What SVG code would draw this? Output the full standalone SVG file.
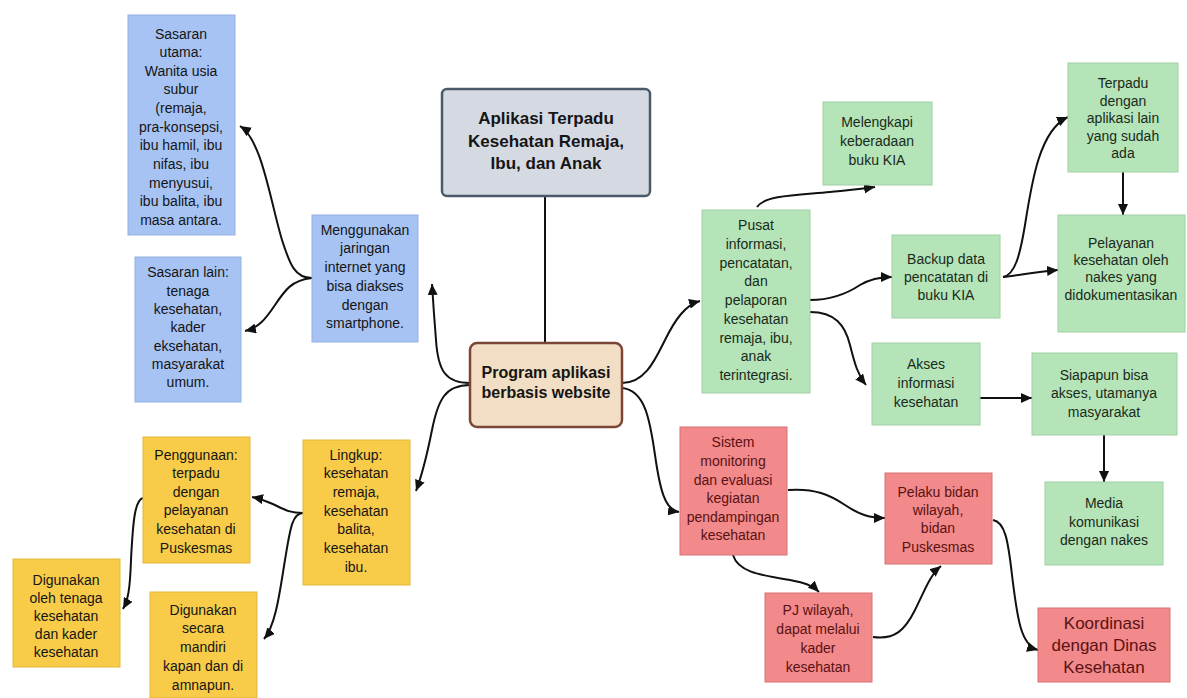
<svg xmlns="http://www.w3.org/2000/svg" width="1187" height="698" viewBox="0 0 1187 698">
<defs>
<marker id="arr" markerUnits="userSpaceOnUse" markerWidth="12" markerHeight="10" refX="11" refY="5" orient="auto">
<path d="M0,0 L11,5 L0,10 z" fill="#111"/>
</marker>
<style>
.t{font-family:"Liberation Sans",Arial,sans-serif;font-size:14px;text-anchor:middle;fill:#151515}
.tr{fill:#5a1212}
.tg{fill:#1a2a1a}
.bl{fill:#a6c3f4;stroke:#93b0e0;stroke-width:1}
.ye{fill:#f8cc48;stroke:#e2b53a;stroke-width:1}
.gr{fill:#b5e4b8;stroke:#a0d0a4;stroke-width:1}
.rd{fill:#f2898b;stroke:#d87274;stroke-width:1}
.c{fill:none;stroke:#111;stroke-width:2}
.ca{fill:none;stroke:#111;stroke-width:2;marker-end:url(#arr)}
</style>
</defs>
<rect width="1187" height="698" fill="#ffffff"/>

<g id="connectors">
<path class="c" d="M545,197 L545,343"/>
<path class="ca" d="M470,383 C445,383 438,370 436,340 C434,315 433,300 432,284"/>
<path class="ca" d="M470,385 C445,385 438,400 432,430 C426,460 422,475 416,491"/>
<path class="ca" d="M312,278 C295,278 290,265 282,240 C270,200 262,140 240,126"/>
<path class="ca" d="M312,278 C292,280 285,290 275,305 C265,320 258,328 245,331"/>
<path class="ca" d="M303,513 C290,513 285,510 275,505 C268,502 262,499 252,497"/>
<path class="ca" d="M303,513 C292,513 290,530 285,560 C280,590 276,625 264,639"/>
<path class="ca" d="M143,498 C135,500 133,520 131,560 C130,590 128,600 123,609"/>
<path class="ca" d="M622,383 C645,383 655,360 665,340 C675,320 685,305 700,301"/>
<path class="ca" d="M622,388 C645,390 650,420 655,455 C660,490 665,510 679,512"/>
<path class="ca" d="M757,207 C765,195 800,195 830,192 C850,190 862,189 875,187"/>
<path class="ca" d="M810,300 C830,300 845,295 860,285 C870,279 880,277 892,277"/>
<path class="ca" d="M810,312 C835,312 845,325 850,345 C855,365 858,375 866,385"/>
<path class="ca" d="M1003,277 C1015,275 1020,255 1025,225 C1032,180 1040,130 1068,117"/>
<path class="ca" d="M1003,277 C1020,275 1035,272 1058,270"/>
<path class="ca" d="M1123,172 L1123,215"/>
<path class="ca" d="M980,398 L1032,398"/>
<path class="ca" d="M1104,435 L1104,482"/>
<path class="ca" d="M788,490 C815,488 830,495 845,505 C860,515 870,518 885,518"/>
<path class="ca" d="M733,555 C738,572 760,575 790,580 C805,583 812,585 819,592"/>
<path class="ca" d="M873,637 C895,640 905,630 915,610 C925,590 930,575 941,566"/>
<path class="ca" d="M993,520 C1005,522 1008,540 1012,575 C1017,615 1020,645 1038,650"/>
</g>

<g id="title">
<rect x="442" y="89" width="208" height="107" rx="5" fill="#d5dae2" stroke="#4b5a6a" stroke-width="2.5"/>
<text class="t" style="font-size:17px;font-weight:bold"><tspan x="546" y="124">Aplikasi Terpadu</tspan><tspan x="546" y="147">Kesehatan Remaja,</tspan><tspan x="546" y="169">Ibu, dan Anak</tspan></text>
</g>

<g id="program">
<rect x="470" y="343" width="152" height="84" rx="7" fill="#f1dec4" stroke="#7c4636" stroke-width="2.5"/>
<text class="t" style="font-size:16px;font-weight:bold"><tspan x="546" y="378">Program aplikasi</tspan><tspan x="546" y="398">berbasis website</tspan></text>
</g>

<g id="sasaran-utama">
<rect class="bl" x="128" y="15" width="107" height="220"/>
<text class="t"><tspan x="181" y="39">Sasaran</tspan><tspan x="181" y="57">utama:</tspan><tspan x="181" y="76">Wanita usia</tspan><tspan x="181" y="94">subur</tspan><tspan x="181" y="113">(remaja,</tspan><tspan x="181" y="132">pra-konsepsi,</tspan><tspan x="181" y="150">ibu hamil, ibu</tspan><tspan x="181" y="169">nifas, ibu</tspan><tspan x="181" y="188">menyusui,</tspan><tspan x="181" y="206">ibu balita, ibu</tspan><tspan x="181" y="225">masa antara.</tspan></text>
</g>

<g id="sasaran-lain">
<rect class="bl" x="135" y="257" width="106" height="145"/>
<text class="t"><tspan x="188" y="277">Sasaran lain:</tspan><tspan x="188" y="296">tenaga</tspan><tspan x="188" y="314">kesehatan,</tspan><tspan x="188" y="332">kader</tspan><tspan x="188" y="351">eksehatan,</tspan><tspan x="188" y="369">masyarakat</tspan><tspan x="188" y="387">umum.</tspan></text>
</g>

<g id="menggunakan">
<rect class="bl" x="312" y="215" width="106" height="127"/>
<text class="t"><tspan x="365" y="235">Menggunakan</tspan><tspan x="365" y="253">jaringan</tspan><tspan x="365" y="272">internet yang</tspan><tspan x="365" y="291">bisa diakses</tspan><tspan x="365" y="310">dengan</tspan><tspan x="365" y="328">smartphone.</tspan></text>
</g>

<g id="penggunaan">
<rect class="ye" x="143" y="437" width="107" height="126"/>
<text class="t"><tspan x="196" y="460">Penggunaan:</tspan><tspan x="196" y="478">terpadu</tspan><tspan x="196" y="497">dengan</tspan><tspan x="196" y="515">pelayanan</tspan><tspan x="196" y="534">kesehatan di</tspan><tspan x="196" y="553">Puskesmas</tspan></text>
</g>

<g id="lingkup">
<rect class="ye" x="303" y="440" width="107" height="145"/>
<text class="t"><tspan x="356" y="460">Lingkup:</tspan><tspan x="356" y="478">kesehatan</tspan><tspan x="356" y="497">remaja,</tspan><tspan x="356" y="516">kesehatan</tspan><tspan x="356" y="534">balita,</tspan><tspan x="356" y="553">kesehatan</tspan><tspan x="356" y="572">ibu.</tspan></text>
</g>

<g id="digunakan-oleh">
<rect class="ye" x="13" y="559" width="107" height="108"/>
<text class="t"><tspan x="66" y="585">Digunakan</tspan><tspan x="66" y="603">oleh tenaga</tspan><tspan x="66" y="621">kesehatan</tspan><tspan x="66" y="639">dan kader</tspan><tspan x="66" y="657">kesehatan</tspan></text>
</g>

<g id="digunakan-secara">
<rect class="ye" x="150" y="592" width="107" height="106"/>
<text class="t"><tspan x="203" y="615">Digunakan</tspan><tspan x="203" y="633">secara</tspan><tspan x="203" y="652">mandiri</tspan><tspan x="203" y="671">kapan dan di</tspan><tspan x="203" y="690">amnapun.</tspan></text>
</g>

<g id="pusat">
<rect class="gr" x="702" y="210" width="108" height="183"/>
<text class="t tg"><tspan x="756" y="230">Pusat</tspan><tspan x="756" y="249">informasi,</tspan><tspan x="756" y="268">pencatatan,</tspan><tspan x="756" y="286">dan</tspan><tspan x="756" y="305">pelaporan</tspan><tspan x="756" y="324">kesehatan</tspan><tspan x="756" y="343">remaja, ibu,</tspan><tspan x="756" y="361">anak</tspan><tspan x="756" y="380">terintegrasi.</tspan></text>
</g>

<g id="melengkapi">
<rect class="gr" x="823" y="102" width="109" height="83"/>
<text class="t tg"><tspan x="877" y="127">Melengkapi</tspan><tspan x="877" y="146">keberadaan</tspan><tspan x="877" y="165">buku KIA</tspan></text>
</g>

<g id="terpadu">
<rect class="gr" x="1068" y="63" width="110" height="109"/>
<text class="t tg"><tspan x="1123" y="88">Terpadu</tspan><tspan x="1123" y="106">dengan</tspan><tspan x="1123" y="123">aplikasi lain</tspan><tspan x="1123" y="141">yang sudah</tspan><tspan x="1123" y="158">ada</tspan></text>
</g>

<g id="backup">
<rect class="gr" x="892" y="235" width="108" height="83"/>
<text class="t tg"><tspan x="946" y="264">Backup data</tspan><tspan x="946" y="282">pencatatan di</tspan><tspan x="946" y="300">buku KIA</tspan></text>
</g>

<g id="pelayanan">
<rect class="gr" x="1058" y="215" width="127" height="117"/>
<text class="t tg"><tspan x="1121" y="248">Pelayanan</tspan><tspan x="1121" y="265">kesehatan oleh</tspan><tspan x="1121" y="282">nakes yang</tspan><tspan x="1121" y="300">didokumentasikan</tspan></text>
</g>

<g id="akses">
<rect class="gr" x="872" y="343" width="108" height="82"/>
<text class="t tg"><tspan x="926" y="369">Akses</tspan><tspan x="926" y="388">informasi</tspan><tspan x="926" y="407">kesehatan</tspan></text>
</g>

<g id="siapapun">
<rect class="gr" x="1032" y="353" width="145" height="82"/>
<text class="t tg"><tspan x="1104" y="380">Siapapun bisa</tspan><tspan x="1104" y="398">akses, utamanya</tspan><tspan x="1104" y="417">masyarakat</tspan></text>
</g>

<g id="media">
<rect class="gr" x="1045" y="482" width="118" height="83"/>
<text class="t tg"><tspan x="1104" y="508">Media</tspan><tspan x="1104" y="527">komunikasi</tspan><tspan x="1104" y="545">dengan nakes</tspan></text>
</g>

<g id="sistem">
<rect class="rd" x="680" y="427" width="107" height="128"/>
<text class="t tr"><tspan x="733" y="447">Sistem</tspan><tspan x="733" y="466">monitoring</tspan><tspan x="733" y="485">dan evaluasi</tspan><tspan x="733" y="503">kegiatan</tspan><tspan x="733" y="522">pendampingan</tspan><tspan x="733" y="540">kesehatan</tspan></text>
</g>

<g id="pelaku">
<rect class="rd" x="885" y="473" width="107" height="91"/>
<text class="t tr"><tspan x="938" y="497">Pelaku bidan</tspan><tspan x="938" y="515">wilayah,</tspan><tspan x="938" y="533">bidan</tspan><tspan x="938" y="552">Puskesmas</tspan></text>
</g>

<g id="pj">
<rect class="rd" x="765" y="593" width="107" height="89"/>
<text class="t tr"><tspan x="818" y="615">PJ wilayah,</tspan><tspan x="818" y="634">dapat melalui</tspan><tspan x="818" y="653">kader</tspan><tspan x="818" y="672">kesehatan</tspan></text>
</g>

<g id="koordinasi">
<rect class="rd" x="1038" y="608" width="132" height="74"/>
<text class="t tr" style="font-size:17px"><tspan x="1104" y="629">Koordinasi</tspan><tspan x="1104" y="651">dengan Dinas</tspan><tspan x="1104" y="673">Kesehatan</tspan></text>
</g>
</svg>
